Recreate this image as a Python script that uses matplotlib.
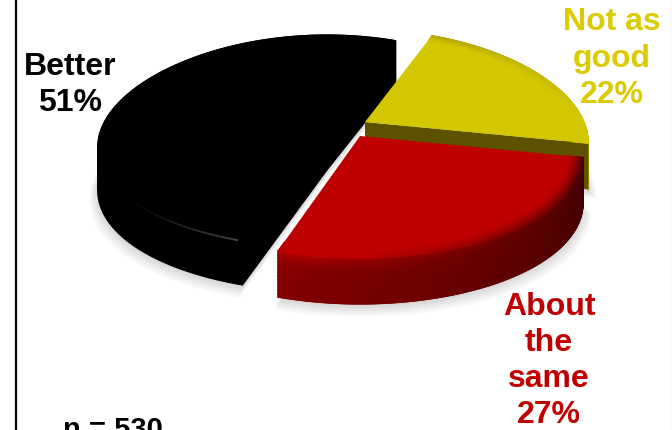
#!/usr/bin/env python3
import numpy as np
import matplotlib
matplotlib.use("Agg")
import matplotlib.pyplot as plt
from matplotlib.collections import LineCollection

plt.rcParams["font.family"] = ["Liberation Sans", "DejaVu Sans"]

# Survey shares, clockwise from the upper right
labels = ["Not as\ngood\n22%", "About\nthe\nsame\n27%", "Better\n51%"]
values = [22, 27, 51]
sample_note = "n = 530"

START = 22          # degrees clockwise from the top
RY, KX, KY = 107, 0.2, 0.14

top_colors = [(0.83, 0.78, 0.0), (0.75, 0.0, 0.0), (0.0, 0.0, 0.0)]
text_colors = ["#dccb00", "#c00000", "#000000"]
wall_near = [(0.62, 0.56, 0.0), (0.52, 0.0, 0.0), (0.0, 0.0, 0.0)]
wall_far = [(0.62, 0.56, 0.0), (0.25, 0.0, 0.0), (0.0, 0.0, 0.0)]
apexes = [(365, 123), (360, 137), (327, 128)]
widths = [219, 219, 225]
depths = [46, 46, 43]


def project(theta, r, apex, rx):
    t = np.radians(theta)
    u, v = r * np.sin(t), r * np.cos(t)
    return apex[0] + rx * u * (1 - KX * v), apex[1] - RY * v * (1 - KY * v)


def wedge_outline(a0, a1, apex, rx, r=1.0, dy=0):
    th = np.linspace(a0, a1, 120)
    x, y = project(th, r, apex, rx)
    return np.r_[apex[0], x], np.r_[apex[1], y] + dy


def cut_face(angle, apex, rx, depth, color, z, lw=0):
    ex, ey = project(angle, 1.0, apex, rx)
    ax.fill([apex[0], ex, ex, apex[0]],
            [apex[1], ey, ey + depth, apex[1] + depth],
            color=color, lw=lw, zorder=z)


fig = plt.figure(figsize=(6.72, 4.31), dpi=100)
ax = fig.add_axes([0, 0, 1, 1])
ax.set_xlim(0, 672)
ax.set_ylim(431, 0)
ax.axis("off")

# frame lines left and right
ax.plot([15.5, 15.5], [0, 431], color="black", lw=1.6, solid_capstyle="butt")
ax.plot([671.6, 671.6], [0, 431], color="#b0b0b0", lw=0.8, solid_capstyle="butt")

edges = START + np.r_[0, np.cumsum(values)] * 3.6

# soft shadow under the whole pie
for i, (a0, a1) in enumerate(zip(edges[:-1], edges[1:])):
    for step in range(8):
        sx, sy = wedge_outline(a0, a1, apexes[i], widths[i], r=1.0 + step * 0.005,
                               dy=depths[i] + 2 + step * 0.9)
        ax.fill(sx, sy, color="black", alpha=0.02, lw=0, zorder=1)

order = [2, 0, 1]
for z, i in enumerate(order):
    a0, a1 = edges[i], edges[i + 1]
    apex, rx, depth = apexes[i], widths[i], depths[i]
    base = 2 + z * 2
    th = np.linspace(a0, a1, 160)
    rim_x, rim_y = project(th, 1.0, apex, rx)
    top = np.array(top_colors[i])[None, None, :]
    far = np.array(wall_far[i])[None, None, :]
    near = np.array(wall_near[i])[None, None, :]

    # outer wall, shaded along its length and its height
    if i == 2:
        # split at the leftmost point so the folded band fills cleanly
        k = np.argmin(rim_x)
        for wx, wy in [(rim_x[:k + 1], rim_y[:k + 1]), (rim_x[k:], rim_y[k:])]:
            ax.fill(np.r_[wx, wx[::-1]], np.r_[wy, wy[::-1] + depth],
                    color="black", lw=0.8, zorder=base)
    else:
        hs = np.linspace(0, 1, 14)
        X = np.tile(rim_x, (len(hs), 1))
        Y = rim_y + hs[:, None] * depth
        along = np.linspace(1, 0, len(th))[None, :, None]
        C = np.repeat(along * far + (1 - along) * near, len(hs), axis=0)
        # bright lip at the top of the wall, stronger towards the near corner
        lip = np.exp(-hs * 7)[:, None, None] * (1 - along) ** 2
        C = C * (1 - lip) + top * lip
        ax.pcolormesh(X, Y, C, shading="gouraud", zorder=base)
        # smooth the lower edge of the mesh
        pts = np.column_stack([rim_x, rim_y + depth]).reshape(-1, 1, 2)
        segs = np.concatenate([pts[:-1], pts[1:]], axis=1)
        ax.add_collection(LineCollection(segs, colors=C[-1, :-1], linewidths=0.9, zorder=base))
        ax.plot([rim_x[-1], rim_x[-1]], [rim_y[-1], rim_y[-1] + depth], color=C[-1, -1],
                lw=0.9, zorder=base)

    # straight cut faces: olive on yellow, plain black on the large slice
    if i == 0:
        cut_face(a1, apex, rx, depth, "#5c5200", base + 0.5)
    if i == 2:
        cut_face(a0, apex, rx, depth, "black", base + 0.5, lw=0.8)
        cut_face(a1, apex, rx, depth, "black", base + 0.5, lw=0.8)

    # top surface
    tx, ty = wedge_outline(a0, a1, apex, rx)
    ax.fill(tx, ty, color=top_colors[i], lw=0.8 if i == 2 else 0, zorder=base + 1)

    # darker bevel round the rim of the red and yellow tops
    if i < 2:
        rs = np.linspace(0.93, 1.0, 9)
        BX = np.empty((len(rs), len(th)))
        BY = np.empty((len(rs), len(th)))
        for j, r in enumerate(rs):
            BX[j], BY[j] = project(th, r, apex, rx)
        fade = np.linspace(0, 1, len(rs))[:, None, None] ** 1.5
        side = np.clip(np.linspace(1.15, -0.25, len(th)), 0, 1)[None, :, None]
        amount = fade * side * (0.9 if i == 1 else 0.55)
        B = top * (1 - amount) + far * amount
        ax.pcolormesh(BX, BY, B, shading="gouraud", zorder=base + 1.2)

    # faint highlight along the black rim
    if i == 2:
        th2 = np.linspace(a0 + 1, a0 + 35, 50)
        hx, hy = project(th2, 1.0, apex, rx)
        pts = np.column_stack([hx, hy - 1]).reshape(-1, 1, 2)
        segs = np.concatenate([pts[:-1], pts[1:]], axis=1)
        shades = [(1, 1, 1, 0.26 * (1 - k / 48) ** 1.4) for k in range(49)]
        ax.add_collection(LineCollection(segs, colors=shades, linewidths=1.4, zorder=base + 1.3))

# slice labels
ax.text(612, 58.5, labels[0], color=text_colors[0], fontsize=23, fontweight="bold",
        ha="center", va="center", linespacing=1.27, zorder=20)
ax.text(549, 361, labels[1], color=text_colors[1], fontsize=23, fontweight="bold",
        ha="center", va="center", linespacing=1.27, zorder=20)
ax.text(70.5, 85, labels[2], color=text_colors[2], fontsize=23, fontweight="bold",
        ha="center", va="center", linespacing=1.27, zorder=20)
ax.text(113, 438, sample_note, color="black", fontsize=21, fontweight="bold",
        ha="center", va="baseline", zorder=20, clip_on=False)

fig.savefig("out.png", dpi=100)
